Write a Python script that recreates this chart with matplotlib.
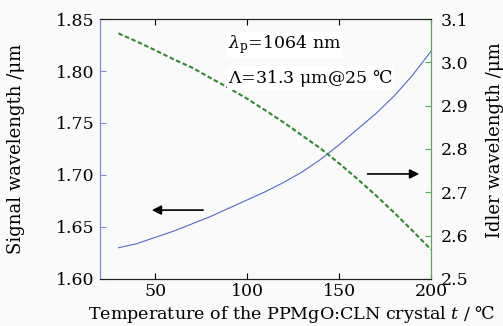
import matplotlib.pyplot as plt
import numpy as np

# temperature / degC
temp = [30, 40, 50, 60, 70, 80, 90, 100, 110, 120, 130, 140, 150, 160, 170, 180, 190, 200]
# signal wavelength / um (left axis)
signal = [1.630, 1.634, 1.640, 1.646, 1.653, 1.660, 1.668, 1.676, 1.684,
          1.693, 1.703, 1.715, 1.729, 1.744, 1.759, 1.776, 1.796, 1.819]
# idler wavelength / um (right axis)
idler = [3.067, 3.048, 3.028, 3.007, 2.988, 2.964, 2.941, 2.916, 2.889,
         2.861, 2.831, 2.801, 2.767, 2.731, 2.693, 2.653, 2.611, 2.568]

x_ticks = [50, 100, 150, 200]
left_ticks = [1.60, 1.65, 1.70, 1.75, 1.80, 1.85]
right_ticks = [2.5, 2.6, 2.7, 2.8, 2.9, 3.0, 3.1]

BLUE = "#5468c8"
GREEN = "#2f8a2f"
SPINE_BLUE = "#7a8fd6"
SPINE_GREEN = "#5aa85a"
FS = 12.5

plt.rcParams["font.family"] = ["DejaVu Serif", "DejaVu Sans"]
plt.rcParams["mathtext.fontset"] = "dejavuserif"

fig = plt.figure(figsize=(5.03, 3.26), dpi=100, facecolor="#fafafa")
ax = fig.add_axes([0.1988, 0.1442, 0.658, 0.7975])
ax.set_facecolor("#fafafa")
ax2 = ax.twinx()

ax.plot(temp, signal, color=BLUE, lw=0.8)
ax2.plot(temp, idler, color=GREEN, lw=1.5, ls=(0, (2.2, 1.2)))

ax.set_xlim(20, 200)
ax.set_ylim(1.60, 1.85)
ax2.set_ylim(2.5, 3.1)
ax.set_xticks(x_ticks)
ax.set_yticks(left_ticks)
ax.set_yticklabels([f"{v:.2f}" for v in left_ticks])
ax2.set_yticks(right_ticks)
ax2.set_yticklabels([f"{v:.1f}" for v in right_ticks])

ax.tick_params(axis="x", direction="in", top=True, length=4, labelsize=FS, pad=3)
ax.tick_params(axis="y", direction="in", length=4, color=SPINE_BLUE, labelsize=FS, pad=4)
ax2.tick_params(axis="y", direction="in", length=4, color=SPINE_GREEN, labelsize=FS, pad=7)

for a in (ax, ax2):
    a.spines["left"].set_color(SPINE_BLUE)
    a.spines["right"].set_color(SPINE_GREEN)
    a.spines["top"].set_color("#222222")
    a.spines["bottom"].set_color("#222222")

ax.set_xlabel("Temperature of the PPMgO:CLN crystal $t$ / ℃", fontsize=12.6)
ax.xaxis.set_label_coords(0.58, -0.095)
ax.set_ylabel("Signal wavelength /μm", fontsize=13)
ax.yaxis.set_label_coords(-0.228, 0.5)
ax2.set_ylabel("Idler wavelength /μm", fontsize=13, rotation=90)
ax2.yaxis.set_label_coords(1.166, 0.535)

ax2.text(0.387, 0.90, r"$\lambda_{\mathrm{p}}$=1064 nm", transform=ax.transAxes,
         fontsize=FS, va="center", ha="left",
         bbox=dict(facecolor="white", edgecolor="none", pad=1))
ax2.text(0.387, 0.773, r"$\mathit{\Lambda}$=31.3 μm@25 ℃", transform=ax.transAxes,
         fontsize=FS, va="center", ha="left",
         bbox=dict(facecolor="white", edgecolor="none", pad=1))

ax2.annotate("", xy=(0.148, 0.265), xytext=(0.320, 0.265), xycoords="axes fraction",
             arrowprops=dict(arrowstyle="-|>", color="black", lw=1.2, mutation_scale=14))
ax2.annotate("", xy=(0.973, 0.404), xytext=(0.80, 0.404), xycoords="axes fraction",
             arrowprops=dict(arrowstyle="-|>", color="black", lw=1.2, mutation_scale=14))

fig.savefig("out.png", dpi=100, facecolor=fig.get_facecolor())
